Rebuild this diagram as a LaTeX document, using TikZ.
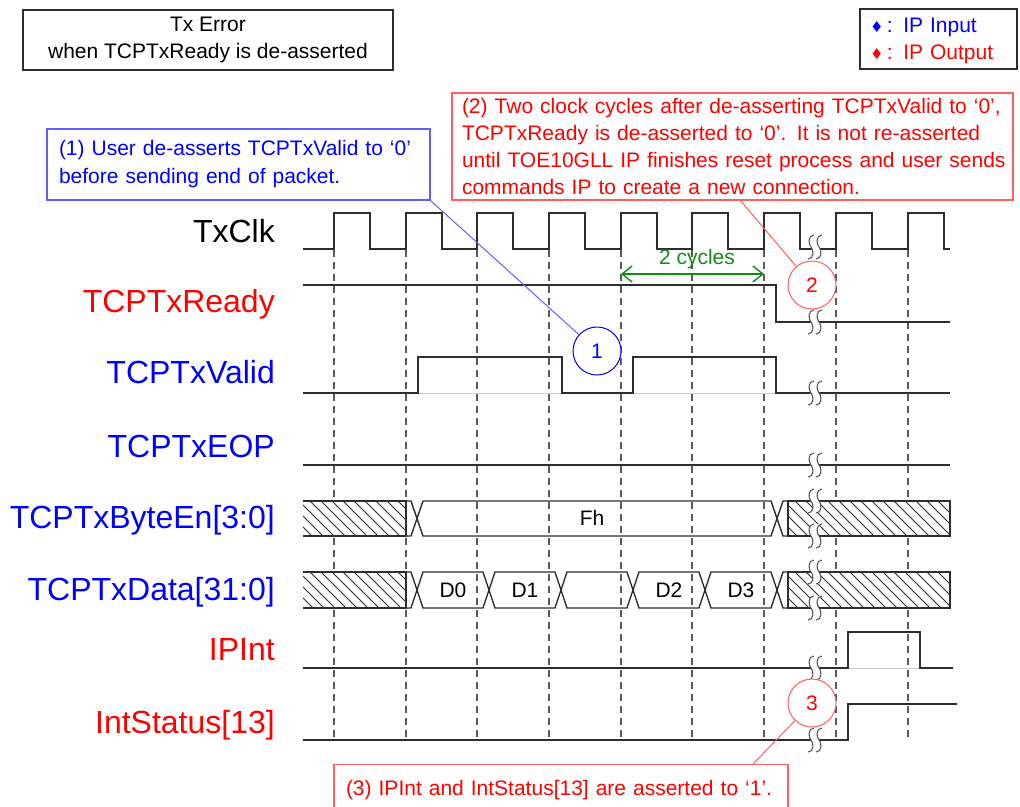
\documentclass[tikz,border=0pt]{standalone}
\usepackage{fontspec}
\setmainfont{Liberation Sans}
\newfontfamily\dvs{DejaVu Sans}
\usetikzlibrary{arrows.meta}
\definecolor{ipblue}{RGB}{0,0,255}
\definecolor{ipred}{RGB}{255,0,0}
\definecolor{lblue}{RGB}{95,95,255}
\definecolor{lred}{RGB}{255,95,95}
\definecolor{sigc}{RGB}{45,45,45}
\definecolor{gridc}{RGB}{90,90,90}
\definecolor{cyc}{RGB}{20,140,20}
\newcommand\myhatch[4]{%
  \begin{scope}
    \fill[white] (#1,#2) rectangle (#3,#4);
    \clip (#1,#2) rectangle (#3,#4);
    \foreach \k in {0,11,...,209} {\draw[hatchline] ({#1-37+\k},#2) -- ++(37,37);}
  \end{scope}}
\begin{document}
\begin{tikzpicture}[x=1pt,y=-1pt,
  sig/.style={line width=1.4pt, draw=sigc, line join=miter},
  shadow/.style={line width=1pt, draw={rgb,255:red,205;green,205;blue,205}},
  gridline/.style={line width=1.2pt, draw=gridc, dash pattern=on 7pt off 5pt},
  hatchline/.style={line width=0.9pt, draw=sigc},
  lab/.style={anchor=base east, inner sep=0pt, font=\fontsize{32}{36}\selectfont},
  small/.style={font=\fontsize{21}{27}\selectfont},
  boxc/.style={draw=sigc, line width=1.2pt, small},
  callb/.style={draw=lblue, line width=1.2pt, text=ipblue, align=left, font=\fontsize{21}{28}\selectfont},
  callr/.style={draw=lred, line width=1.2pt, text=ipred, align=left, font=\fontsize{21}{27.3}\selectfont},
  numcirc/.style={circle, fill=white, line width=1pt, minimum size=48pt, inner sep=0pt, font=\fontsize{21}{24}\selectfont},
  buslab/.style={font=\fontsize{21}{24}\selectfont, inner sep=0pt},
  brk/.pic={
    \fill[white] (1,-12) .. controls (-5,-12) and (-5,-3) .. (-2,0) .. controls (1,3) and (1,12) .. (-5,12)
      -- (3,12) .. controls (9,12) and (9,3) .. (6,0) .. controls (3,-3) and (3,-12) .. (9,-12) -- cycle;
    \draw[line width=1.1pt, draw=gridc] (1,-12) .. controls (-5,-12) and (-5,-3) .. (-2,0) .. controls (1,3) and (1,12) .. (-5,12);
    \draw[line width=1.1pt, draw=gridc] (9,-12) .. controls (3,-12) and (3,-3) .. (6,0) .. controls (9,3) and (9,12) .. (3,12);
  }]
\useasboundingbox (0,0) rectangle (1020,806);
\fill[white] (0,0) rectangle (1020,806);

% dashed clock grid
\foreach \r in {334,406,477,549,621,692,764,836,908} {\draw[gridline] (\r,250) -- (\r,741);}

% title and legend
\node[boxc, minimum width=370pt, minimum height=60pt, align=center] (title) at (208,40) {Tx Error\\when TCPTxReady is de-asserted};
\node[boxc, minimum width=157pt, minimum height=60pt, align=left, text width=137pt, inner xsep=10pt] (legend) at (938.5,39)
  {\rule{0pt}{18pt}{\color{ipblue}{\dvs\fontsize{15}{27}\selectfont ♦}\,: IP Input}\\{\color{ipred}{\dvs\fontsize{15}{27}\selectfont ♦}\,: IP Output}};

% signal labels
\node[lab] (lclk) at (275,242) {TxClk};
\node[lab, text=ipred] (lrdy) at (275,312) {TCPTxReady};
\node[lab, text=ipblue] (lval) at (275,383) {TCPTxValid};
\node[lab, text=ipblue] (leop) at (275,457) {TCPTxEOP};
\node[lab, text=ipblue] (lbe) at (275,528) {TCPTxByteEn[3:0]};
\node[lab, text=ipblue] (ldat) at (275,600) {TCPTxData[31:0]};
\node[lab, text=ipred] (lint) at (275,660) {IPInt};
\node[lab, text=ipred] (lst) at (275,733) {IntStatus[13]};

% shadows
\draw[shadow] (418,393) -- (562,393) (633,393) -- (776,393) (848,668) -- (920,668);

% clock
\draw[sig] (303,249) foreach \r in {334,406,477,549,621,692,764,836,908} { -- (\r,249) -- (\r,213) -- ({\r+36},213) -- ({\r+36},249) } -- (950,249);
% TCPTxReady
\draw[sig] (303,285) -- (776,285) -- (776,322) -- (950,322);
% TCPTxValid
\draw[sig] (303,393) -- (418,393) -- (418,357) -- (562,357) -- (562,393) -- (633,393) -- (633,357) -- (776,357) -- (776,393) -- (950,393);
% TCPTxEOP
\draw[sig] (303,465) -- (950,465);

% TCPTxByteEn
\myhatch{303}{501}{406}{536}
\myhatch{788}{501}{950}{536}
\draw[sig] (303,501) -- (406,501) -- (406,536) -- (303,536);
\draw[sig] (950,501) -- (788,501) -- (788,536) -- (950,536) -- cycle;
\draw[sig] (406,501) -- (411,501) -- (423,536) -- (771,536) -- (783,501) -- (788,501);
\draw[sig] (406,536) -- (411,536) -- (423,501) -- (771,501) -- (783,536) -- (788,536);
\node[buslab] (fh) at (592,518) {Fh};

% TCPTxData
\myhatch{303}{572}{406}{608}
\myhatch{788}{572}{950}{608}
\draw[sig] (303,572) -- (406,572) -- (406,608) -- (303,608);
\draw[sig] (950,572) -- (788,572) -- (788,608) -- (950,608) -- cycle;
\draw[sig] (406,572) -- (411,572) -- (423,608) -- (483,608) -- (495,572) -- (555,572) -- (567,608) -- (627,608) -- (639,572) -- (699,572) -- (711,608) -- (771,608) -- (783,572) -- (788,572);
\draw[sig] (406,608) -- (411,608) -- (423,572) -- (483,572) -- (495,608) -- (555,608) -- (567,572) -- (627,572) -- (639,608) -- (699,608) -- (711,572) -- (771,572) -- (783,608) -- (788,608);
\node[buslab] (d0) at (453,590) {D0};
\node[buslab] (d1) at (525,590) {D1};
\node[buslab] (d2) at (669,590) {D2};
\node[buslab] (d3) at (741,590) {D3};

% IPInt
\draw[sig] (303,668) -- (848,668) -- (848,632) -- (920,632) -- (920,668) -- (953,668);
% IntStatus[13]
\draw[sig] (303,740) -- (848,740) -- (848,704) -- (957,704);

% break marks
\foreach \y in {247,322,393,465,501,536,572,608,668,740} {\pic at (813,\y) {brk};}

% 2 cycles
\coordinate (cyA) at (621,274);
\coordinate (cyB) at (764,274);
\draw[cyc, line width=1.4pt, {Straight Barb[length=10pt,width=16pt]}-{Straight Barb[length=10pt,width=16pt]}] (cyA) -- (cyB);
\node[buslab, text=cyc] (cyt) at (697,259) {2 cycles};

% callouts
\node[callb, minimum width=383pt, minimum height=71pt, text width=359pt, inner xsep=12pt] (call1) at (238.5,164.5)
  {\mbox{(1) User de-asserts TCPTxValid to ‘0’}\\\mbox{before sending end of packet.}};
\node[callr, minimum width=561pt, minimum height=107pt, text width=541pt, inner xsep=10pt] (call2) at (732.5,146.5)
  {\mbox{(2) Two clock cycles after de-asserting TCPTxValid to ‘0’,}\\\mbox{TCPTxReady is de-asserted to ‘0’. It is not re-asserted}\\\mbox{until TOE10GLL IP finishes reset process and user sends}\\\mbox{commands IP to create a new connection.}};
\node[callr, minimum width=454pt, minimum height=50pt, text width=430pt, inner xsep=12pt, anchor=north] (call3) at (561,764)
  {\mbox{(3) IPInt and IntStatus[13] are asserted to ‘1’.}};

\node[numcirc, draw=ipblue, text=ipblue] (c1) at (597,351) {1};
\node[numcirc, draw=lred, text=ipred] (c2) at (812,285) {2};
\node[numcirc, draw=lred, text=ipred] (c3) at (812,703) {3};

\coordinate (p2) at (740,200);
\coordinate (p3) at (753,764);
\draw[lblue, line width=1pt] (call1.south east) -- (c1);
\draw[lred, line width=1pt] (p2) -- (c2);
\draw[lred, line width=1pt] (p3) -- (c3);
\end{tikzpicture}
\end{document}
